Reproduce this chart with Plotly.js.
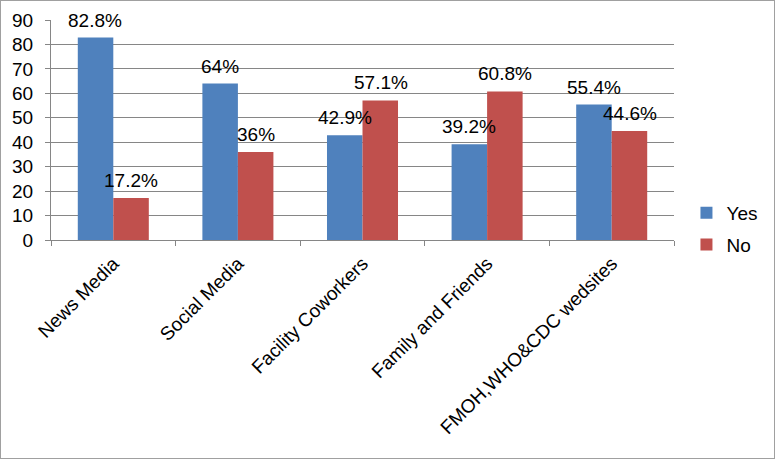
<!DOCTYPE html>
<html>
<head>
<meta charset="utf-8">
<script src="https://cdn.plot.ly/plotly-3.0.1.min.js"></script>
<style>
  body { margin: 0; background: #fff; }
  #myPlot { width: 773px; height: 457px; border: 1px solid #a0a0a0; }
</style>
</head>
<body>
<div id="myPlot"></div>
<script>
var sources = ["News Media", "Social Media", "Facility Coworkers", "Family and Friends", "FMOH,WHO&CDC wedsites"];
var yesValues = [82.8, 64, 42.9, 39.2, 55.4];
var noValues = [17.2, 36, 57.1, 60.8, 44.6];
var yesLabels = ["82.8%", "64%", "42.9%", "39.2%", "55.4%"];
var noLabels = ["17.2%", "36%", "57.1%", "60.8%", "44.6%"];

var trace1 = {
  x: sources,
  y: yesValues,
  name: "Yes",
  legendgroup: "yes",
  type: "bar",
  marker: {color: "#4F81BD"},
  hoverinfo: "none"
};

var trace2 = {
  x: sources,
  y: noValues,
  name: "No",
  legendgroup: "no",
  type: "bar",
  marker: {color: "#C0504D"},
  hoverinfo: "none"
};

// data labels sit a bit above each bar, like Excel does
var notes = [];
sources.forEach(function(s, i) {
  notes.push({x: s, y: yesValues[i], text: yesLabels[i], xshift: -18, yshift: 5,
              yanchor: "bottom", showarrow: false});
  notes.push({x: s, y: noValues[i], text: noLabels[i], xshift: 18, yshift: 5,
              yanchor: "bottom", showarrow: false});
});

var layout = {
  width: 773,
  height: 457,
  margin: {l: 50, r: 93, t: 19, b: 218},
  paper_bgcolor: "#fff",
  plot_bgcolor: "#fff",
  font: {family: "Liberation Sans, Arial, sans-serif", size: 19, color: "#000"},
  bargap: 0.43,
  bargroupgap: 0,
  showlegend: true,
  legend: {x: 1.02, y: 0.05, yanchor: "middle", font: {size: 19},
           traceorder: "grouped", tracegroupgap: 4},
  xaxis: {
    tickangle: -45,
    tickfont: {size: 19},
    ticklabelstandoff: 4,
    showline: true,
    linecolor: "#868686",
    ticks: "outside",
    tickson: "boundaries",
    ticklen: 5,
    tickcolor: "#868686",
    fixedrange: true
  },
  yaxis: {
    range: [0, 90],
    dtick: 10,
    tickfont: {size: 19},
    ticklabelstandoff: 8,
    showline: true,
    linecolor: "#868686",
    ticks: "outside",
    ticklen: 5,
    tickcolor: "#868686",
    gridcolor: "#868686",
    zeroline: false,
    fixedrange: true
  },
  annotations: notes
};

Plotly.newPlot("myPlot", [trace1, trace2], layout, {displayModeBar: false, staticPlot: true});
</script>
</body>
</html>
